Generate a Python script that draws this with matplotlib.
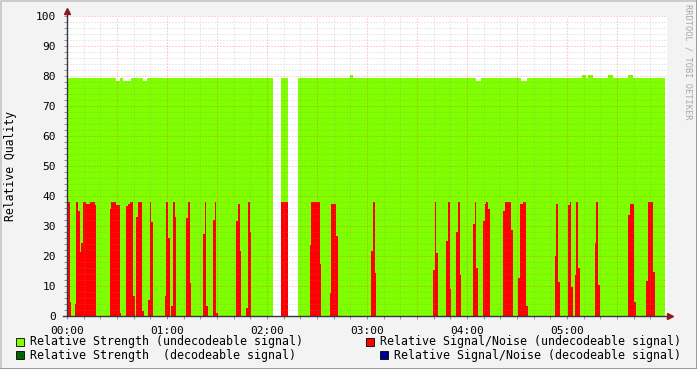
import numpy as np
import matplotlib
matplotlib.use("Agg")
import matplotlib.pyplot as plt
from matplotlib.patches import Rectangle
from matplotlib.lines import Line2D

# one sample = 36 s, 600 samples = 6 hours
step_min = 0.6
n_samples = 600
n_green = 598

# relative strength (undecodeable), normal level and deviations
green_level = 79.3
green_changes = [  # (first sample, last sample, value)
    (49, 52, 78.4), (56, 63, 78.4), (76, 79, 78.4),
    (283, 285, 80.3), (409, 413, 78.2), (454, 459, 78.2),
    (515, 518, 80.3), (521, 525, 80.3), (541, 545, 80.3), (561, 565, 80.3),
]
green_gaps = [(206, 213), (221, 230)]

# relative signal/noise (undecodeable): (first sample, values per sample)
red_bursts = [
    (0, [38, 38, 38, 4.8]),
    (8, [4, 38, 38, 35, 35, 21.4, 24.4, 24.4, 38, 38, 38, 37.3, 37.3, 37.3, 37.3,
         38, 38, 38, 38, 38, 37]),
    (43, [35.7, 38, 38, 38, 38, 38, 37, 37, 37, 37, 1]),
    (59, [36.7, 36.7, 37.3, 37.3, 38, 38, 38, 6.7, 6.7]),
    (69, [33, 33, 38, 38, 38, 38, 1.8, 1.8]),
    (81, [5.3, 5.3, 38, 31.3, 31.3]),
    (98, [6.7, 38, 38, 26, 26]),
    (104, [3.3, 3.3, 38, 38, 33]),
    (119, [32.7, 32.7, 38, 38, 11]),
    (136, [27.3, 27.3, 38, 3.3, 3.3]),
    (146, [32, 32, 38, 1, 1]),
    (169, [31.7, 31.7, 37.3, 37.3, 21.7]),
    (179, [2.7, 2.7, 38, 38, 28]),
    (214, [38, 38, 38, 38, 38, 38, 38]),
    (243, [23.7, 38, 38, 38, 38, 38, 38, 38, 38, 38, 17.3]),
    (263, [7.7, 37.3, 37.3, 37.3, 37.3, 37.3, 26.7, 26.7]),
    (304, [21.7, 21.7, 38, 38, 14.3]),
    (366, [15.3, 15.3, 38, 21, 21]),
    (379, [25, 25, 38, 38, 9]),
    (389, [28, 28, 38, 38, 13.7]),
    (406, [30.7, 30.7, 38, 16, 16]),
    (416, [31.7, 31.7, 37.3, 38, 38, 35.7, 35.7]),
    (436, [35, 35, 38, 38, 38, 38, 38, 38, 28.7, 28.7]),
    (451, [12.7, 12.7, 37.3, 37.3, 37.3, 38, 38, 38, 3.3, 3.3]),
    (488, [20, 37.3, 37.3, 11.3, 11.3]),
    (501, [37, 37, 38, 9.7, 9.7]),
    (508, [13.7, 38, 38, 16, 16]),
    (528, [24.3, 38, 38, 10.3, 10.3]),
    (561, [33.7, 33.7, 37.3, 37.3, 37.3, 37.3, 4.7, 4.7]),
    (579, [11.7, 11.7, 38, 38, 38, 38, 38, 14.7, 14.7]),
]

hour_ticks = [0, 60, 120, 180, 240, 300]
hour_labels = ["00:00", "01:00", "02:00", "03:00", "04:00", "05:00"]

legend_items = [
    ("Relative Strength (undecodeable signal)", "#7FFF00"),
    ("Relative Strength  (decodeable signal)", "#006400"),
    ("Relative Signal/Noise (undecodeable signal)", "#FF0000"),
    ("Relative Signal/Noise (decodeable signal)", "#000090"),
]

# build the sample arrays
green = np.full(n_samples, np.nan)
green[:n_green] = green_level
for a, b, v in green_changes:
    green[a:b + 1] = v
for a, b in green_gaps:
    green[a:b + 1] = np.nan

red = np.zeros(n_samples)
for start, vals in red_bursts:
    red[start:start + len(vals)] = vals

t = np.arange(n_samples) * step_min

plt.rcParams['font.family'] = ['DejaVu Sans Mono']
plt.rcParams['lines.scale_dashes'] = False
W, H = 697, 369
fig = plt.figure(figsize=(W / 100, H / 100), dpi=100, facecolor="#F3F3F3")
x0, x1, y0, y1 = 67, 667, 16, 316
ax = fig.add_axes([x0 / W, 1 - y1 / H, (x1 - x0) / W, (y1 - y0) / H])
ax.set_facecolor("white")

ok = ~np.isnan(green)
ax.bar(t[ok], green[ok], width=step_min, align="edge", color="#7FFF00",
       linewidth=0, antialiased=False, zorder=1)
nz = red > 0
ax.bar(t[nz], red[nz], width=step_min, align="edge", color="#FF0000",
       linewidth=0, antialiased=False, zorder=2)

ax.set_xlim(0, 360)
ax.set_ylim(0, 100)

# dotted grid drawn over the data, rrdtool style
dots = (0, (0.72, 1.44))
for v in np.arange(10, 361, 10):
    major = v % 30 == 0
    ax.axvline(v, color="#FF0000" if major else "#8A8A8A", alpha=0.35 if major else 0.35,
               lw=0.72, ls=dots, zorder=3)
for v in np.arange(2, 101, 2):
    major = v % 10 == 0
    ax.axhline(v, color="#FF0000" if major else "#8A8A8A", alpha=0.35 if major else 0.35,
               lw=0.72, ls=dots, zorder=3)

for s in ax.spines.values():
    s.set_visible(False)
ax.set_xticks(hour_ticks)
ax.set_xticklabels(hour_labels)
ax.set_xticks(np.arange(0, 361, 10), minor=True)
ax.set_yticks(np.arange(0, 101, 10))
ax.set_yticks(np.arange(0, 101, 2), minor=True)
ax.tick_params(axis="both", which="both", length=2, width=0.7, color="#909090",
               labelsize=8, pad=6)
ax.tick_params(axis="x", which="major", pad=5)

axis_col = "#353545"
ax.add_line(Line2D([-4 * step_min, 361], [0, 0], color=axis_col, lw=1.0,
                   clip_on=False, zorder=5))
ax.add_line(Line2D([0, 0], [0, 101.5], color=axis_col, lw=1.0,
                   clip_on=False, zorder=5))
ax.plot([0], [101.7], marker="^", color="#8B1A1A", ms=4, clip_on=False, zorder=6)
ax.plot([361.8], [0], marker=">", color="#8B1A1A", ms=4, clip_on=False, zorder=6)

fig.text(11 / W, 1 - 166 / H, "Relative Quality", rotation=90, ha="center",
         va="center", fontsize=8.3)
fig.text(688 / W, 1 - 4 / H, "RRDTOOL / TOBI OETIKER", rotation=270, ha="center",
         va="top", fontsize=6.2, color="#A8A8A8")

# legend
rows = [(30, 342, 16), (30, 355, 16), (380, 342, 366), (394, 355, 380)]
for (label, col), (tx, ty, bx) in zip(legend_items, rows):
    fig.patches.append(Rectangle((bx / W, 1 - (ty + 4) / H), 8 / W, 8 / H,
                                 transform=fig.transFigure, facecolor=col,
                                 edgecolor="black", lw=0.6))
    fig.text(tx / W, 1 - ty / H, label, ha="left", va="center", fontsize=8.4)

# frame
fig.add_artist(Line2D([0.5 / W, 0.5 / W, 1 - 0.5 / W], [0, 1 - 0.5 / H, 1 - 0.5 / H],
                      transform=fig.transFigure, color="#CBCBCB", lw=1.4))
fig.add_artist(Line2D([0.5 / W, 1 - 0.5 / W, 1 - 0.5 / W], [0.5 / H, 0.5 / H, 1],
                      transform=fig.transFigure, color="#999999", lw=1.4))

fig.savefig("out.png", dpi=100, facecolor=fig.get_facecolor())
